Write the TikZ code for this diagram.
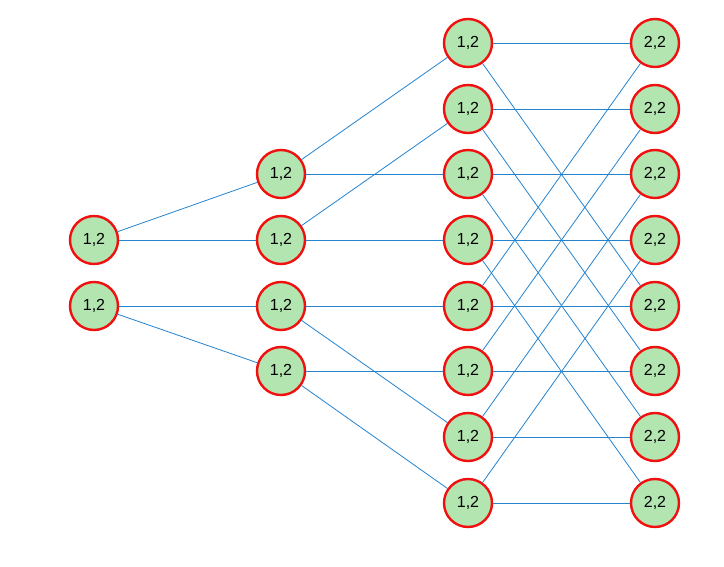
\documentclass[tikz,border=0pt]{standalone}
\usepackage{fontspec}
\setmainfont{Liberation Sans}
\definecolor{nodefill}{HTML}{B3E5B0}
\definecolor{noderim}{HTML}{F01010}
\definecolor{edgeblue}{HTML}{2383CF}
\begin{document}
\begin{tikzpicture}[x=1pt,y=-1pt,
  vert/.style={circle,draw=noderim,fill=nodefill,line width=2.4pt,minimum size=48pt,inner sep=0pt,font=\fontsize{16}{16}\selectfont},
  edge/.style={draw=edgeblue,line width=0.8pt}]
\useasboundingbox (0,0) rectangle (724,567);
% column 1
\node[vert] (a1) at (94,240) {1,2};
\node[vert] (a2) at (94,306) {1,2};
% column 2
\foreach \i/\y in {1/174,2/240,3/306,4/371}{\node[vert] (b\i) at (281,\y) {1,2};}
% columns 3 and 4
\foreach \i/\y in {1/43,2/109,3/174,4/240,5/306,6/371,7/437,8/503}{
  \node[vert] (c\i) at (468,\y) {1,2};
  \node[vert] (d\i) at (655,\y) {2,2};
}
\draw[edge] (a1)--(b1); \draw[edge] (a1)--(b2);
\draw[edge] (a2)--(b3); \draw[edge] (a2)--(b4);
\draw[edge] (b1)--(c1); \draw[edge] (b1)--(c3);
\draw[edge] (b2)--(c2); \draw[edge] (b2)--(c4);
\draw[edge] (b3)--(c5); \draw[edge] (b3)--(c7);
\draw[edge] (b4)--(c6); \draw[edge] (b4)--(c8);
\foreach \i in {1,...,8}{\draw[edge] (c\i)--(d\i);}
\foreach \i/\j in {1/5,2/6,3/7,4/8,5/1,6/2,7/3,8/4}{\draw[edge] (c\i)--(d\j);}
\end{tikzpicture}
\end{document}
